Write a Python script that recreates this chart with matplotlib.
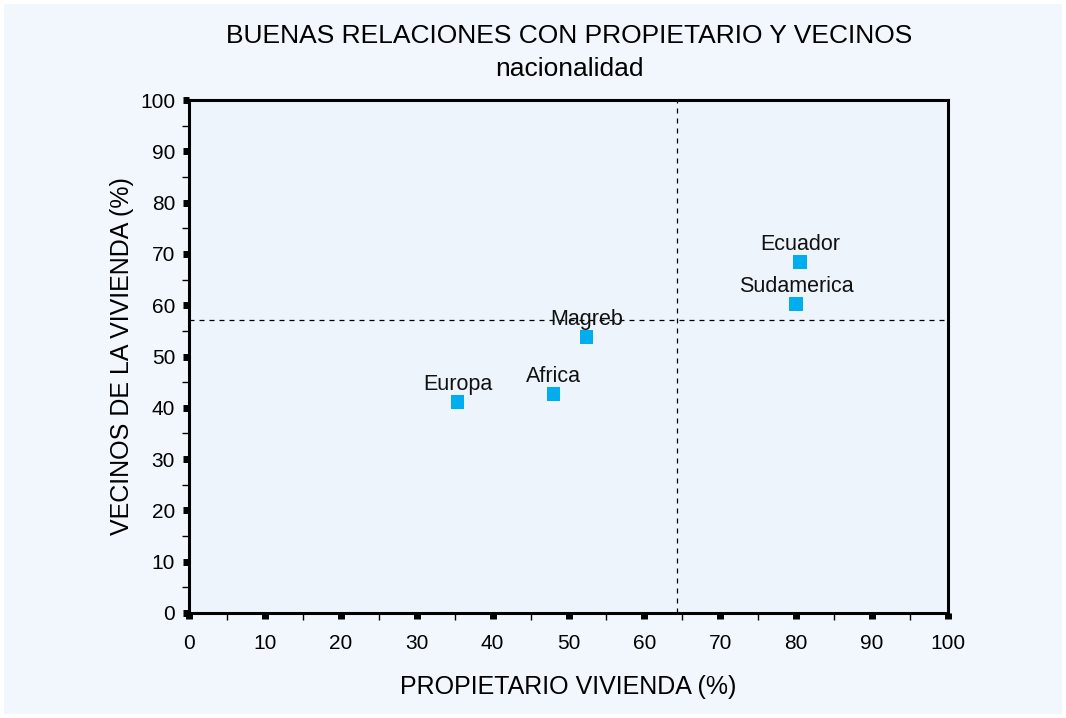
import matplotlib
matplotlib.use("Agg")
import matplotlib.pyplot as plt
from matplotlib.patches import Rectangle

names = ["Europa", "Africa", "Magreb", "Sudamerica", "Ecuador"]
propietario = [35.4, 48.0, 52.4, 80.0, 80.5]
vecinos = [41.1, 42.7, 53.8, 60.2, 68.4]
ref_x = 64.3
ref_y = 57.1
ticks = list(range(0, 101, 10))

plt.rcParams['font.family'] = ['Liberation Sans', 'DejaVu Sans']

fig = plt.figure(figsize=(10.66, 7.18), dpi=100)
fig.patch.set_facecolor('white')
fig.patches.append(Rectangle((4/1066, 4/718), 1 - 8/1066, 1 - 8/718,
                             transform=fig.transFigure, facecolor='#F2F7FD',
                             edgecolor='none', zorder=-10))

ax = fig.add_axes([189/1066, 1 - 613/718, (948 - 189)/1066, (613 - 100)/718])
ax.set_facecolor('#EDF4FC')

ax.axvline(ref_x, color='black', lw=0.9, ls=(0, (4, 4)), zorder=1)
ax.axhline(ref_y, color='black', lw=0.9, ls=(0, (4, 4)), zorder=1)

ax.scatter(propietario, vecinos, marker='s', s=95, color='#00AEEF',
           edgecolors='none', zorder=3)
for n, x, y in zip(names, propietario, vecinos):
    ax.annotate(n, (x, y), xytext=(0, 12.5), textcoords='offset points',
                ha='center', va='center', fontsize=15.5, color='#111111', zorder=4)

ax.set_xlim(0, 100)
ax.set_ylim(0, 100)
ax.set_xticks(ticks)
ax.set_yticks(ticks)
ax.set_xticks(range(5, 100, 10), minor=True)
ax.set_yticks(range(5, 100, 10), minor=True)
ax.tick_params(which='major', direction='out', length=4, width=5, labelsize=15,
               color='black')
ax.tick_params(axis='x', which='major', pad=11)
ax.tick_params(axis='y', which='major', pad=6)
ax.tick_params(which='minor', direction='out', length=5, width=1, color='black')

for s in ax.spines.values():
    s.set_linewidth(2.2)
    s.set_color('black')

ax.set_xlabel('PROPIETARIO VIVIENDA (%)', fontsize=18, labelpad=16)
ax.set_ylabel('VECINOS DE LA VIVIENDA (%)', fontsize=18, labelpad=4)

fig.text(569/1066, 1 - 36/718, 'BUENAS RELACIONES CON PROPIETARIO Y VECINOS',
         ha='center', va='center', fontsize=19)
fig.text(569/1066, 1 - 69/718, 'nacionalidad', ha='center', va='center', fontsize=19)

fig.savefig('out.png', dpi=100, facecolor=fig.get_facecolor())
